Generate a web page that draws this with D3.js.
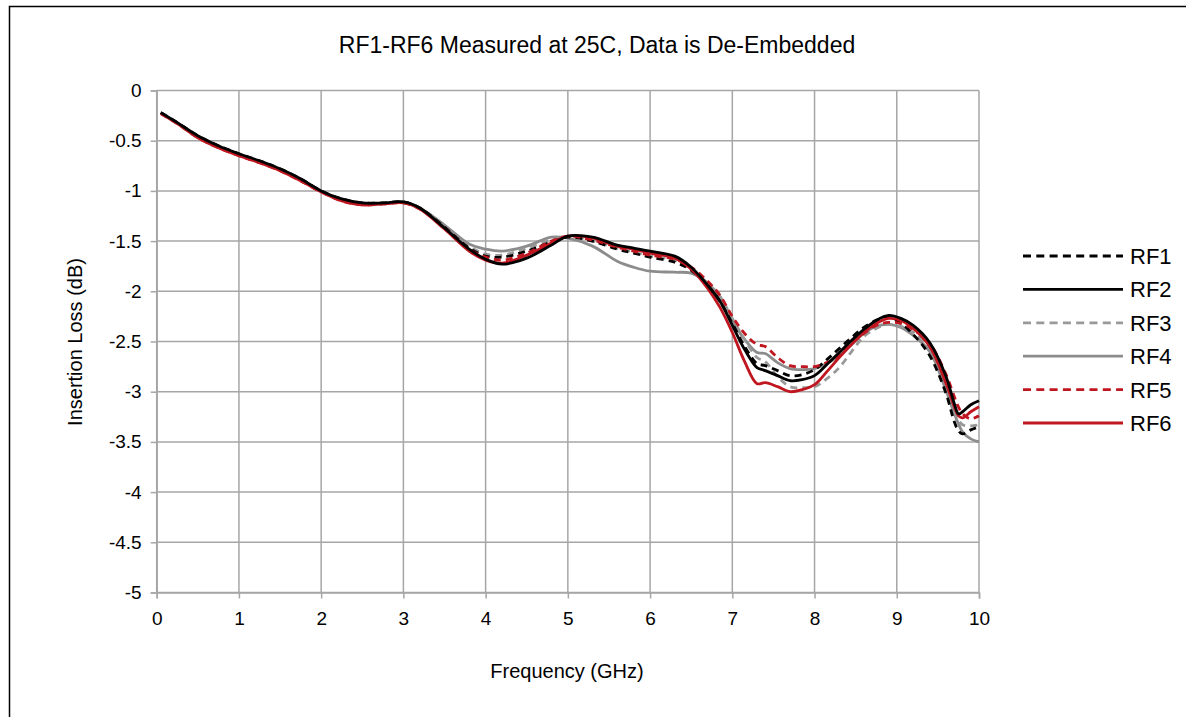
<!DOCTYPE html>
<html>
<head>
<meta charset="utf-8">
<script src="https://cdn.jsdelivr.net/npm/d3@7"></script>
<style>
  html, body { margin: 0; padding: 0; background: #fff; }
  svg { display: block; font-family: "Liberation Sans", Arial, sans-serif; }
</style>
</head>
<body>
<svg id="chart" width="1186" height="717"></svg>
<script>
const title = "RF1-RF6 Measured at 25C, Data is De-Embedded";
const xTitle = "Frequency (GHz)";
const yTitle = "Insertion Loss (dB)";
const xTicks = [0, 1, 2, 3, 4, 5, 6, 7, 8, 9, 10];
const yTicks = [0, -0.5, -1, -1.5, -2, -2.5, -3, -3.5, -4, -4.5, -5];
const seriesNames = ["RF1", "RF2", "RF3", "RF4", "RF5", "RF6"];

const freq = [0.05, 0.25, 0.5, 0.75, 1.0, 1.25, 1.5, 1.75, 2.0, 2.25, 2.5, 2.75, 3.0, 3.2, 3.5, 3.8,
  4.0, 4.2, 4.5, 4.8, 5.0, 5.3, 5.6, 5.8, 6.0, 6.3, 6.5, 6.7, 6.85, 7.0, 7.15, 7.3, 7.4, 7.55, 7.7, 7.85,
  8.0, 8.15, 8.3, 8.45, 8.6, 8.75, 8.9, 9.05, 9.2, 9.4, 9.6, 9.7, 9.75, 9.8, 9.9, 10.0];

const rf1 = [-0.22, -0.32, -0.45, -0.55, -0.63, -0.70, -0.78, -0.88, -1.00, -1.08, -1.12, -1.12, -1.11, -1.17, -1.36, -1.57,
  -1.65, -1.66, -1.60, -1.51, -1.46, -1.50, -1.58, -1.62, -1.66, -1.71, -1.79, -1.94, -2.10, -2.32, -2.55, -2.72, -2.74, -2.79, -2.84, -2.83,
  -2.78, -2.68, -2.57, -2.46, -2.36, -2.29, -2.26, -2.32, -2.43, -2.64, -3.02, -3.30, -3.39, -3.42, -3.38, -3.35];
const rf2 = [-0.22, -0.32, -0.45, -0.55, -0.63, -0.70, -0.78, -0.88, -1.00, -1.08, -1.12, -1.12, -1.11, -1.17, -1.37, -1.58,
  -1.68, -1.73, -1.67, -1.54, -1.45, -1.46, -1.54, -1.57, -1.60, -1.65, -1.76, -1.94, -2.10, -2.34, -2.58, -2.76, -2.79, -2.84, -2.89, -2.88,
  -2.84, -2.73, -2.61, -2.49, -2.38, -2.29, -2.24, -2.27, -2.34, -2.51, -2.85, -3.12, -3.22, -3.20, -3.13, -3.09];
const rf3 = [-0.22, -0.32, -0.46, -0.56, -0.64, -0.71, -0.79, -0.89, -1.00, -1.09, -1.13, -1.13, -1.11, -1.17, -1.35, -1.55,
  -1.63, -1.64, -1.57, -1.49, -1.46, -1.50, -1.57, -1.61, -1.65, -1.69, -1.78, -1.92, -2.05, -2.27, -2.48, -2.66, -2.70, -2.85, -2.95, -2.96,
  -2.95, -2.87, -2.76, -2.60, -2.45, -2.37, -2.33, -2.35, -2.41, -2.57, -2.92, -3.18, -3.28, -3.33, -3.34, -3.33];
const rf4 = [-0.22, -0.32, -0.46, -0.56, -0.64, -0.71, -0.79, -0.89, -1.00, -1.09, -1.13, -1.13, -1.11, -1.17, -1.34, -1.53,
  -1.58, -1.60, -1.55, -1.46, -1.47, -1.55, -1.70, -1.76, -1.80, -1.81, -1.82, -1.92, -2.06, -2.29, -2.48, -2.61, -2.62, -2.71, -2.77, -2.78,
  -2.77, -2.72, -2.64, -2.53, -2.42, -2.35, -2.33, -2.36, -2.44, -2.60, -2.99, -3.22, -3.32, -3.40, -3.47, -3.50];
const rf5 = [-0.23, -0.33, -0.47, -0.57, -0.65, -0.72, -0.80, -0.90, -1.01, -1.10, -1.14, -1.13, -1.12, -1.18, -1.37, -1.58,
  -1.66, -1.69, -1.62, -1.50, -1.45, -1.49, -1.56, -1.60, -1.64, -1.68, -1.76, -1.90, -2.04, -2.25, -2.42, -2.53, -2.55, -2.66, -2.74, -2.75,
  -2.75, -2.71, -2.64, -2.52, -2.42, -2.34, -2.31, -2.32, -2.38, -2.52, -2.83, -3.05, -3.15, -3.22, -3.27, -3.24];
const rf6 = [-0.23, -0.33, -0.47, -0.57, -0.65, -0.72, -0.80, -0.90, -1.01, -1.10, -1.14, -1.13, -1.12, -1.18, -1.38, -1.60,
  -1.69, -1.72, -1.64, -1.52, -1.45, -1.47, -1.55, -1.58, -1.62, -1.67, -1.78, -1.97, -2.16, -2.41, -2.70, -2.92, -2.91, -2.95, -3.00, -2.98,
  -2.93, -2.80, -2.66, -2.53, -2.41, -2.32, -2.27, -2.29, -2.37, -2.55, -2.92, -3.15, -3.24, -3.26, -3.20, -3.15];

const seriesValues = [rf1, rf2, rf3, rf4, rf5, rf6];
const seriesColors = ["#000000", "#000000", "#999999", "#8c8c8c", "#c0161f", "#c0161f"];
const seriesDashed = [true, false, true, false, true, false];

const svg = d3.select("#chart");
const W = 1186, H = 717;

// outer frame
svg.append("rect").attr("x", 9.5).attr("y", 6.5).attr("width", W + 10).attr("height", H + 10)
  .attr("fill", "#fff").attr("stroke", "#000").attr("stroke-width", 1.5);

const x = d3.scaleLinear().domain([0, 10]).range([156.7, 979]);
const y = d3.scaleLinear().domain([0, -5]).range([90.5, 592.5]);

const gridColor = "#a6a6a6";

// gridlines
svg.append("g").selectAll("line").data(xTicks).join("line")
  .attr("x1", d => x(d)).attr("x2", d => x(d)).attr("y1", y(0)).attr("y2", y(-5))
  .attr("stroke", gridColor).attr("stroke-width", 1.5);
svg.append("g").selectAll("line").data(yTicks).join("line")
  .attr("x1", x(0)).attr("x2", x(10)).attr("y1", d => y(d)).attr("y2", d => y(d))
  .attr("stroke", gridColor).attr("stroke-width", 1.5);

// axes
const xAxis = d3.axisBottom(x).tickValues(xTicks).tickSize(6).tickPadding(13).tickFormat(d3.format("d"));
const yAxis = d3.axisLeft(y).tickValues(yTicks).tickSize(6).tickPadding(9).tickFormat(d => d === 0 ? "0" : String(d));
const gx = svg.append("g").attr("transform", `translate(0,${y(-5)})`).call(xAxis);
const gy = svg.append("g").attr("transform", `translate(${x(0)},0)`).call(yAxis);
[gx, gy].forEach(g => {
  g.select(".domain").attr("stroke", gridColor).attr("stroke-width", 1.5);
  g.selectAll(".tick line").attr("stroke", gridColor).attr("stroke-width", 1.5);
  g.selectAll(".tick text").attr("fill", "#000").style("font-size", "19px")
    .style("font-family", "'Liberation Sans', Arial, sans-serif");
});

// lines
const line = d3.line().x(d => x(d[0])).y(d => y(d[1])).curve(d3.curveCatmullRom.alpha(0.5));
const order = [3, 2, 0, 4, 5, 1];
const gl = svg.append("g");
order.forEach(i => {
  const pts = freq.map((f, k) => [f, seriesValues[i][k]]);
  gl.append("path").datum(pts).attr("d", line).attr("fill", "none")
    .attr("stroke", seriesColors[i]).attr("stroke-width", 2.8)
    .attr("stroke-dasharray", seriesDashed[i] ? "7,5" : null)
    .attr("stroke-linejoin", "round");
});

// titles
svg.append("text").attr("x", 597).attr("y", 53).attr("text-anchor", "middle")
  .style("font-size", "23px").text(title);
svg.append("text").attr("x", 567).attr("y", 678).attr("text-anchor", "middle")
  .style("font-size", "20px").text(xTitle);
svg.append("text").attr("transform", "translate(82,342) rotate(-90)").attr("text-anchor", "middle")
  .style("font-size", "20px").text(yTitle);

// legend
const lg = svg.append("g");
seriesNames.forEach((name, i) => {
  const ly = 256 + i * 33.4;
  lg.append("line").attr("x1", 1023).attr("x2", 1123).attr("y1", ly).attr("y2", ly)
    .attr("stroke", seriesColors[i]).attr("stroke-width", 2.8)
    .attr("stroke-dasharray", seriesDashed[i] ? "8,5.3" : null);
  lg.append("text").attr("x", 1130).attr("y", ly + 8).style("font-size", "22px").text(name);
});
</script>
</body>
</html>
